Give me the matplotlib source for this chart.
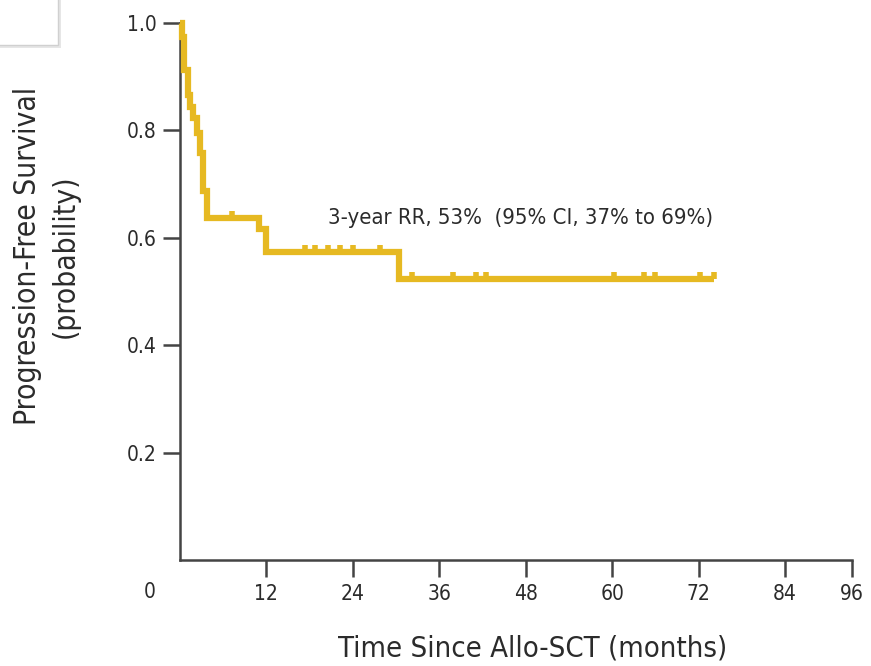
import numpy as np
import matplotlib
matplotlib.use("Agg")
import matplotlib.pyplot as plt
from matplotlib import font_manager
from matplotlib.patches import Rectangle

# Kaplan-Meier steps (months, probability after the drop)
drop_times = [0.25, 0.55, 1.05, 1.4, 1.75, 2.3, 2.75, 3.2, 3.7, 11.0, 12.0, 30.4]
drop_levels = [0.974, 0.912, 0.865, 0.843, 0.824, 0.796, 0.757, 0.688, 0.637, 0.617, 0.573, 0.523]
end_time = 74.2

# censored observations (months)
censor_times = [7.2, 17.4, 18.75, 20.6, 22.2, 24.0, 27.8, 32.2, 37.9, 41.1, 42.5,
                60.3, 64.4, 66.0, 72.2, 74.2]

x_ticks = [12, 24, 36, 48, 60, 72, 84]
x_tick_labels = ["12", "24", "36", "48", "60", "72", "84", "96"]
y_ticks = [0.2, 0.4, 0.6, 0.8, 1.0]
y_tick_labels = ["0.2", "0.4", "0.6", "0.8", "1.0"]
annotation = "3-year RR, 53%  (95% CI, 37% to 69%)"

# the last tick (96) sits at the end of the drawn axis in the original
x_end = 93.3

names = {f.name for f in font_manager.fontManager.ttflist}
if "Liberation Sans Narrow" in names:
    font = dict(family="Liberation Sans Narrow")
else:
    font = dict(family="DejaVu Sans", stretch="condensed")

yellow = "#E6B922"
ink = "#2b2b2b"
axis_col = "#444444"

fig = plt.figure(figsize=(8.71, 6.66), dpi=100)
ax = fig.add_axes([180 / 871, 1 - 560 / 666, (852 - 180) / 871, (560 - 23) / 666])

t = [0.0] + drop_times + [end_time]
s = [1.0] + drop_levels + [drop_levels[-1]]
ax.plot(t, s, drawstyle="steps-post", color=yellow, lw=4.5,
        solid_joinstyle="miter", solid_capstyle="butt", clip_on=False, zorder=3)

# censor ticks sit on the curve level at their time
idx = np.searchsorted(drop_times, censor_times, side="right")
levels = np.array([1.0] + drop_levels)[idx]
ax.plot(censor_times, levels, linestyle="none", marker=2, markersize=5.0,
        markeredgewidth=4.0, color=yellow, clip_on=False, zorder=3)

ax.text(20.6, 0.637, annotation, fontsize=15.8, color=ink, va="center", ha="left", **font)

ax.set_xlim(0, x_end)
ax.set_ylim(0, 1.0)
ax.set_xticks(x_ticks + [x_end])
ax.set_xticklabels(x_tick_labels, fontsize=15, color=ink, **font)
ax.set_yticks(y_ticks)
ax.set_yticklabels(y_tick_labels, fontsize=15, color=ink, **font)

for side in ["top", "right"]:
    ax.spines[side].set_visible(False)
for side in ["left", "bottom"]:
    ax.spines[side].set_color(axis_col)
    ax.spines[side].set_linewidth(1.8)
ax.tick_params(direction="out", length=12, width=1.8, color=axis_col, pad=5)

# the "0" label stands apart, left of the axis corner
fig.text(150 / 871, 1 - 592 / 666, "0", fontsize=15, color=ink, ha="center", va="center", **font)

fig.text(533 / 871, 1 - 648 / 666, "Time Since Allo-SCT (months)", fontsize=21,
         color=ink, ha="center", va="center", **font)
fig.text(28 / 871, 1 - 256 / 666, "Progression-Free Survival", fontsize=21.5, rotation=90,
         color=ink, ha="center", va="center", **font)
fig.text(65 / 871, 1 - 256 / 666, "(probability)", fontsize=21.5, rotation=90,
         color=ink, ha="center", va="center", **font)

# small white box cut off at the top-left corner
fig.patches.append(Rectangle((-0.01, 1 - 48 / 666), 61 / 871 + 0.01, 0.1, transform=fig.transFigure,
                             facecolor="#e6e6e6", edgecolor="none", zorder=0))
fig.patches.append(Rectangle((-0.01, 1 - 45 / 666), 58 / 871 + 0.01, 0.1,
                             transform=fig.transFigure, facecolor="white",
                             edgecolor="#d0d0d0", lw=1.0, zorder=1))

fig.savefig("out.png", dpi=100)
